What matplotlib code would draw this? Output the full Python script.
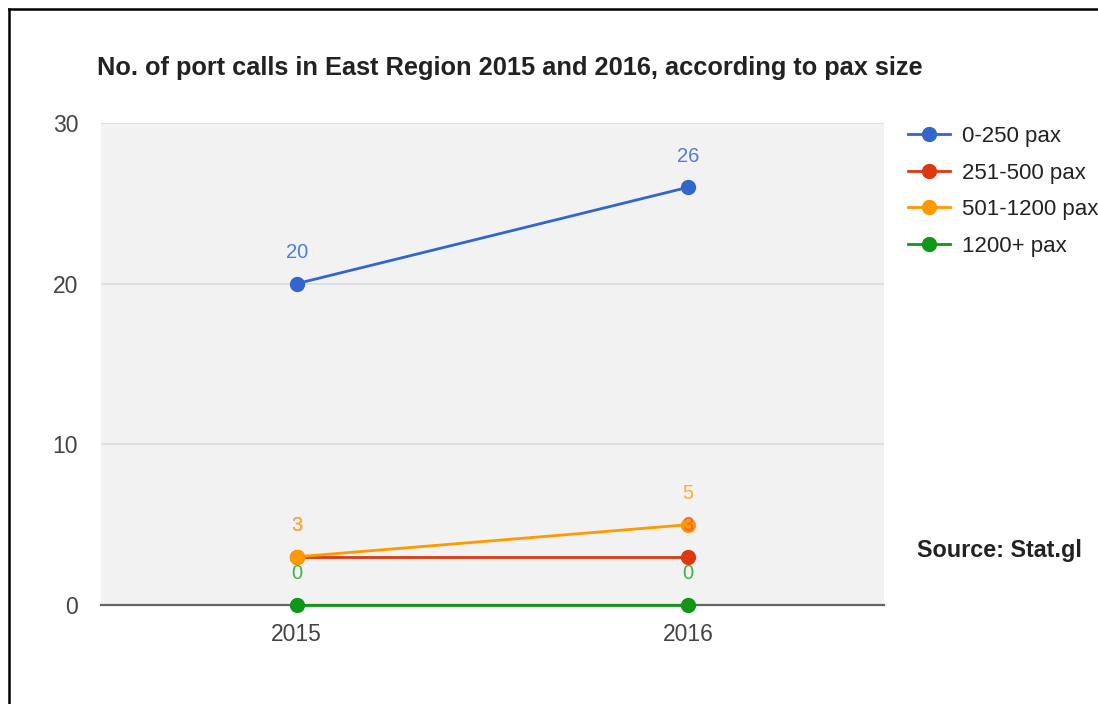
import matplotlib.pyplot as plt
from matplotlib.lines import Line2D

# Dados
anos = ["2015", "2016"]
series = ["0-250 pax", "251-500 pax", "501-1200 pax", "1200+ pax"]
v_0_250 = [20, 26]
v_251_500 = [3, 3]
v_501_1200 = [3, 5]
v_1200_mais = [0, 0]
valores = [v_0_250, v_251_500, v_501_1200, v_1200_mais]

cores = ["#3366cc", "#dc3912", "#ff9900", "#109618"]
cores_rotulo = ["#4f7fd6", "#e8604a", "#ffad33", "#3fb34a"]

plt.rcParams['font.family'] = ['Liberation Sans', 'DejaVu Sans']

fig = plt.figure(figsize=(10.98, 7.04), dpi=100)
ax = fig.add_axes([0.092, 0.1406, 0.713, 0.6847])
ax.set_facecolor("#f2f2f2")

x = list(range(len(anos)))

# Linhas de grade
for yv in [10, 20, 30]:
    ax.axhline(yv, color="#dcdcdc", lw=1.2, zorder=1)
ax.axhline(0, color="#666666", lw=1.6, zorder=1, clip_on=False)

for nome, vals, cor in zip(series, valores, cores):
    ax.plot(x, vals, color=cor, lw=2, marker='o', markersize=10, label=nome,
            zorder=3, clip_on=False)

# Rótulos de dados
for vals, cor in zip(valores, cores_rotulo):
    for xi, v in zip(x, vals):
        ax.annotate(str(v), (xi, v), xytext=(0, 22.5), textcoords='offset points',
                    ha='center', va='center', color=cor, fontsize=14.5, zorder=4)

ax.set_xlim(-0.5, 1.5)
ax.set_ylim(0, 30)
ax.set_xticks(x)
ax.set_xticklabels(anos)
ax.set_yticks([0, 10, 20, 30])
ax.tick_params(axis='both', length=0, labelsize=16.5, colors="#444444")
ax.tick_params(axis='y', pad=16.5)
ax.tick_params(axis='x', pad=13)
for s in ax.spines.values():
    s.set_visible(False)

fig.text(97 / 1098, 1 - 68 / 704, "No. of port calls in East Region 2015 and 2016, according to pax size",
         fontsize=18.3, fontweight='bold', color="#222222", va='center', ha='left')

fig.text(917 / 1098, 1 - 551 / 704, "Source: Stat.gl", fontsize=16.8, fontweight='bold',
         color="#222222", va='center', ha='left')

fig.legend(loc='upper left', bbox_to_anchor=(908 / 1098, 1 - 126 / 704), frameon=False,
           fontsize=16, handlelength=1.9, handletextpad=0.54, labelspacing=0.7,
           borderpad=0, borderaxespad=0, labelcolor="#222222")

# Moldura
fig.add_artist(Line2D([9 / 1098, 9 / 1098], [0, 1 - 9 / 704], color="black", lw=1.8))
fig.add_artist(Line2D([9 / 1098, 1], [1 - 9 / 704, 1 - 9 / 704], color="black", lw=1.8))

plt.savefig("out.png", dpi=100)
